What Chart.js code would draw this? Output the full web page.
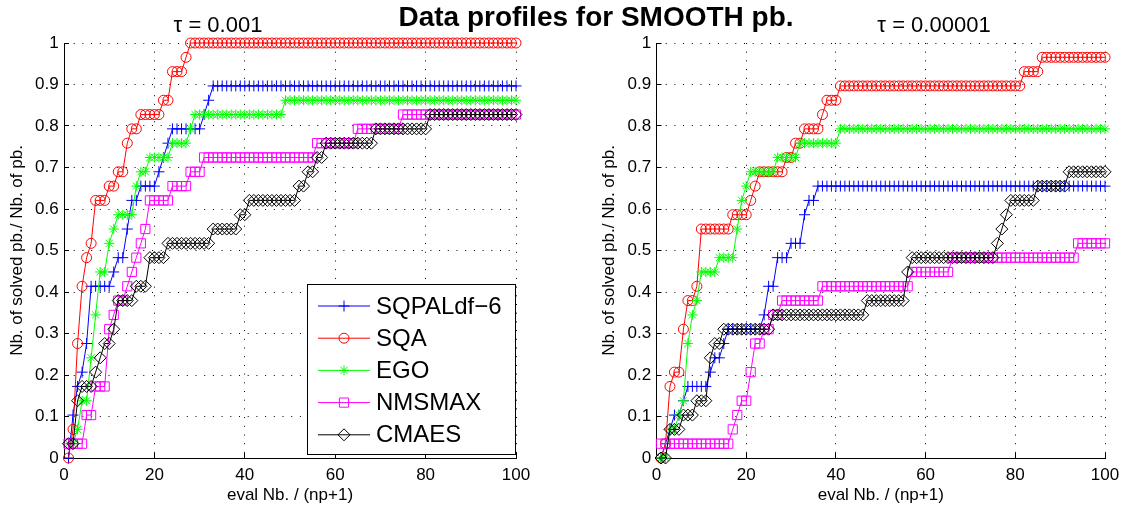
<!DOCTYPE html>
<html>
<head>
<meta charset="utf-8">
<title>Data profiles for SMOOTH pb.</title>
<script src="https://cdn.jsdelivr.net/npm/chart.js@4.4.1/dist/chart.umd.min.js"></script>
<style>
  html, body { margin: 0; padding: 0; background: #fff; }
  body { position: relative; width: 1126px; height: 508px; overflow: hidden;
         font-family: 'Liberation Sans', Arial, Helvetica, sans-serif; color: #000; }
  canvas { position: absolute; top: 0; }
  #left { left: 0; }
  #right { left: 592px; }
  .txt { position: absolute; white-space: nowrap; transform: translateX(-50%); z-index: 2; }
  #main-title { left: 596px; top: 2px; font-size: 28px; line-height: 30px; font-weight: bold; }
  .sub-title { top: 13px; font-size: 22px; line-height: 24px; }
</style>
</head>
<body>
<div id="main-title" class="txt">Data profiles for SMOOTH pb.</div>
<div class="txt sub-title" style="left:218px">τ = 0.001</div>
<div class="txt sub-title" style="left:934px">τ = 0.00001</div>
<canvas id="left" width="560" height="508"></canvas>
<canvas id="right" width="534" height="508"></canvas>
<script>
Chart.defaults.font.family = "'Liberation Sans', Arial, Helvetica, sans-serif";
Chart.defaults.color = '#000';

// 29 problems in the SMOOTH set, budgets 1..100 (in units of np+1)
const NB_PB = 29;
const X_EVALS = Array.from({ length: 100 }, (_, i) => i + 1);

const SERIES_NAMES = ['SQPALdf\u22126', 'SQA', 'EGO', 'NMSMAX', 'CMAES'];
const SERIES_COLORS = ['#0000ff', '#ff0000', '#00ff00', '#ff00ff', '#000000'];
const SERIES_MARKERS = ['cross', 'circle', 'star', 'rect', 'rectRot'];
const MARKER_SIZES = [5.5, 5, 5, 6.5, 6];

const X_TICK_LABELS = ['0', '20', '40', '60', '80', '100'];
const Y_TICK_LABELS = ['0', '0.1', '0.2', '0.3', '0.4', '0.5', '0.6', '0.7', '0.8', '0.9', '1'];
const X_TITLE = 'eval Nb. / (np+1)';
const Y_TITLE = 'Nb. of solved pb./ Nb. of pb.';

// number of solved problems, tau = 0.001
const SQPAL_T3 = [
  0, 3, 5, 6, 8, 12, 12, 12, 12, 12,
  13, 14, 14, 16, 18, 18, 19, 19, 19, 19,
  20, 21, 22, 23, 23, 23, 23, 23, 23, 23,
  24, 25, 26, 26, 26, 26, 26, 26, 26, 26,
  26, 26, 26, 26, 26, 26, 26, 26, 26, 26,
  26, 26, 26, 26, 26, 26, 26, 26, 26, 26,
  26, 26, 26, 26, 26, 26, 26, 26, 26, 26,
  26, 26, 26, 26, 26, 26, 26, 26, 26, 26,
  26, 26, 26, 26, 26, 26, 26, 26, 26, 26,
  26, 26, 26, 26, 26, 26, 26, 26, 26, 26,
];
const SQA_T3 = [
  0, 2, 8, 12, 14, 15, 18, 18, 18, 19,
  19, 20, 20, 22, 23, 23, 24, 24, 24, 24,
  24, 25, 25, 27, 27, 27, 28, 29, 29, 29,
  29, 29, 29, 29, 29, 29, 29, 29, 29, 29,
  29, 29, 29, 29, 29, 29, 29, 29, 29, 29,
  29, 29, 29, 29, 29, 29, 29, 29, 29, 29,
  29, 29, 29, 29, 29, 29, 29, 29, 29, 29,
  29, 29, 29, 29, 29, 29, 29, 29, 29, 29,
  29, 29, 29, 29, 29, 29, 29, 29, 29, 29,
  29, 29, 29, 29, 29, 29, 29, 29, 29, 29,
];
const EGO_T3 = [
  1, 1, 2, 4, 4, 7, 10, 13, 13, 15,
  16, 17, 17, 17, 17, 19, 20, 20, 21, 21,
  21, 21, 21, 22, 22, 22, 22, 23, 24, 24,
  24, 24, 24, 24, 24, 24, 24, 24, 24, 24,
  24, 24, 24, 24, 24, 24, 24, 24, 25, 25,
  25, 25, 25, 25, 25, 25, 25, 25, 25, 25,
  25, 25, 25, 25, 25, 25, 25, 25, 25, 25,
  25, 25, 25, 25, 25, 25, 25, 25, 25, 25,
  25, 25, 25, 25, 25, 25, 25, 25, 25, 25,
  25, 25, 25, 25, 25, 25, 25, 25, 25, 25,
];
const NMS_T3 = [
  1, 1, 1, 1, 3, 3, 5, 5, 5, 9,
  10, 11, 11, 12, 13, 14, 15, 16, 18, 18,
  18, 18, 18, 19, 19, 19, 19, 20, 20, 20,
  21, 21, 21, 21, 21, 21, 21, 21, 21, 21,
  21, 21, 21, 21, 21, 21, 21, 21, 21, 21,
  21, 21, 21, 21, 21, 22, 22, 22, 22, 22,
  22, 22, 22, 22, 23, 23, 23, 23, 23, 23,
  23, 23, 23, 23, 24, 24, 24, 24, 24, 24,
  24, 24, 24, 24, 24, 24, 24, 24, 24, 24,
  24, 24, 24, 24, 24, 24, 24, 24, 24, 24,
];
const CMA_T3 = [
  1, 1, 4, 5, 5, 5, 6, 7, 8, 8,
  9, 11, 11, 11, 11, 12, 12, 12, 14, 14,
  14, 14, 15, 15, 15, 15, 15, 15, 15, 15,
  15, 15, 16, 16, 16, 16, 16, 16, 17, 17,
  18, 18, 18, 18, 18, 18, 18, 18, 18, 18,
  18, 19, 19, 20, 20, 21, 21, 22, 22, 22,
  22, 22, 22, 22, 22, 22, 22, 22, 23, 23,
  23, 23, 23, 23, 23, 23, 23, 23, 23, 23,
  24, 24, 24, 24, 24, 24, 24, 24, 24, 24,
  24, 24, 24, 24, 24, 24, 24, 24, 24, 24,
];

// number of solved problems, tau = 0.00001
const SQPAL_T5 = [
  0, 1, 2, 3, 3, 4, 5, 5, 5, 5,
  5, 6, 7, 7, 8, 9, 9, 9, 9, 9,
  9, 9, 9, 10, 12, 12, 14, 14, 14, 15,
  15, 15, 17, 18, 18, 19, 19, 19, 19, 19,
  19, 19, 19, 19, 19, 19, 19, 19, 19, 19,
  19, 19, 19, 19, 19, 19, 19, 19, 19, 19,
  19, 19, 19, 19, 19, 19, 19, 19, 19, 19,
  19, 19, 19, 19, 19, 19, 19, 19, 19, 19,
  19, 19, 19, 19, 19, 19, 19, 19, 19, 19,
  19, 19, 19, 19, 19, 19, 19, 19, 19, 19,
];
const SQA_T5 = [
  0, 1, 5, 6, 6, 9, 11, 11, 12, 16,
  16, 16, 16, 16, 16, 16, 17, 17, 17, 17,
  18, 19, 20, 20, 20, 20, 20, 20, 21, 21,
  22, 22, 23, 23, 23, 23, 24, 25, 25, 25,
  26, 26, 26, 26, 26, 26, 26, 26, 26, 26,
  26, 26, 26, 26, 26, 26, 26, 26, 26, 26,
  26, 26, 26, 26, 26, 26, 26, 26, 26, 26,
  26, 26, 26, 26, 26, 26, 26, 26, 26, 26,
  26, 27, 27, 27, 27, 28, 28, 28, 28, 28,
  28, 28, 28, 28, 28, 28, 28, 28, 28, 28,
];
const EGO_T5 = [
  0, 0, 2, 2, 3, 4, 8, 10, 11, 13,
  13, 13, 13, 14, 14, 14, 14, 16, 18, 19,
  20, 20, 20, 20, 20, 20, 21, 21, 21, 21,
  21, 22, 22, 22, 22, 22, 22, 22, 22, 22,
  23, 23, 23, 23, 23, 23, 23, 23, 23, 23,
  23, 23, 23, 23, 23, 23, 23, 23, 23, 23,
  23, 23, 23, 23, 23, 23, 23, 23, 23, 23,
  23, 23, 23, 23, 23, 23, 23, 23, 23, 23,
  23, 23, 23, 23, 23, 23, 23, 23, 23, 23,
  23, 23, 23, 23, 23, 23, 23, 23, 23, 23,
];
const NMS_T5 = [
  1, 1, 1, 1, 1, 1, 1, 1, 1, 1,
  1, 1, 1, 1, 1, 1, 2, 3, 4, 4,
  6, 8, 8, 9, 9, 10, 10, 11, 11, 11,
  11, 11, 11, 11, 11, 11, 12, 12, 12, 12,
  12, 12, 12, 12, 12, 12, 12, 12, 12, 12,
  12, 12, 12, 12, 12, 12, 13, 13, 13, 13,
  13, 13, 13, 13, 13, 14, 14, 14, 14, 14,
  14, 14, 14, 14, 14, 14, 14, 14, 14, 14,
  14, 14, 14, 14, 14, 14, 14, 14, 14, 14,
  14, 14, 14, 15, 15, 15, 15, 15, 15, 15,
];
const CMA_T5 = [
  0, 0, 2, 2, 2, 3, 3, 3, 4, 4,
  4, 7, 8, 8, 9, 9, 9, 9, 9, 9,
  9, 9, 9, 9, 9, 10, 10, 10, 10, 10,
  10, 10, 10, 10, 10, 10, 10, 10, 10, 10,
  10, 10, 10, 10, 10, 10, 11, 11, 11, 11,
  11, 11, 11, 11, 11, 13, 14, 14, 14, 14,
  14, 14, 14, 14, 14, 14, 14, 14, 14, 14,
  14, 14, 14, 14, 14, 15, 16, 17, 18, 18,
  18, 18, 18, 18, 19, 19, 19, 19, 19, 19,
  19, 20, 20, 20, 20, 20, 20, 20, 20, 20,
];

function buildDatasets(countsList) {
  return countsList.map((counts, i) => ({
    label: SERIES_NAMES[i],
    data: counts.map((c, j) => ({ x: X_EVALS[j], y: c / NB_PB })),
    borderColor: SERIES_COLORS[i],
    backgroundColor: 'rgba(0,0,0,0)',
    borderWidth: 1,
    pointStyle: SERIES_MARKERS[i],
    pointRadius: MARKER_SIZES[i],
    pointHoverRadius: MARKER_SIZES[i],
    pointBorderColor: SERIES_COLORS[i],
    pointBackgroundColor: 'rgba(0,0,0,0)',
    pointBorderWidth: 1,
    tension: 0,
    fill: false,
    clip: false,
    // later series are drawn on top, like the original plot order
    order: SERIES_NAMES.length - i,
  }));
}

function scalesFor(yAxisWidth) {
  const gridOpts = { color: '#000', lineWidth: 1, drawTicks: false, tickLength: 0 };
  const borderOpts = { display: true, color: '#000', width: 1, dash: [1, 7.7] };
  return {
    x: {
      type: 'linear',
      min: 0,
      max: 100,
      afterFit: s => { s.height = 50; },
      ticks: {
        stepSize: 20, padding: 6.8, maxRotation: 0, autoSkip: false,
        font: { size: 17 }, color: '#000',
        callback: (v, i) => X_TICK_LABELS[i],
      },
      grid: gridOpts,
      border: borderOpts,
      title: { display: true, text: X_TITLE, font: { size: 17 }, color: '#000', padding: { top: 0, bottom: 2.8 } },
    },
    y: {
      type: 'linear',
      min: 0,
      max: 1,
      afterFit: s => { s.width = yAxisWidth; },
      ticks: {
        stepSize: 0.1, padding: 5.4, autoSkip: false,
        font: { size: 17 }, color: '#000',
        callback: (v, i) => Y_TICK_LABELS[i],
      },
      grid: gridOpts,
      border: borderOpts,
      title: { display: true, text: Y_TITLE, font: { size: 17 }, color: '#000', padding: { top: 6.8, bottom: 0 } },
    },
  };
}

// small inward tick marks on the left and bottom axes
const inwardTicks = {
  id: 'inwardTicks',
  beforeDatasetsDraw(chart) {
    const { ctx, chartArea: a, scales: { x, y } } = chart;
    ctx.save();
    ctx.strokeStyle = '#000';
    ctx.lineWidth = 1;
    ctx.beginPath();
    x.ticks.forEach(t => {
      const px = Math.round(x.getPixelForValue(t.value) - 0.5) + 0.5;
      ctx.moveTo(px, a.bottom);
      ctx.lineTo(px, a.bottom - 5);
    });
    y.ticks.forEach(t => {
      const py = Math.round(y.getPixelForValue(t.value) - 0.5) + 0.5;
      ctx.moveTo(a.left, py);
      ctx.lineTo(a.left + 5, py);
    });
    ctx.stroke();
    ctx.restore();
  },
};

// boxed legend with line + marker samples
const boxLegend = {
  id: 'boxLegend',
  afterDatasetsDraw(chart) {
    const { ctx } = chart;
    const box = { x: 307, y: 284, w: 208, h: 170 };
    ctx.save();
    ctx.fillStyle = '#fff';
    ctx.fillRect(box.x, box.y, box.w, box.h);
    ctx.strokeStyle = '#000';
    ctx.lineWidth = 1;
    ctx.strokeRect(box.x + 0.5, box.y + 0.5, box.w, box.h);
    ctx.font = "24px 'Liberation Sans', Arial, sans-serif";
    ctx.textBaseline = 'middle';
    ctx.textAlign = 'left';
    chart.data.datasets.forEach((ds, i) => {
      const yRow = 306 + i * 32.2;
      ctx.strokeStyle = ds.borderColor;
      ctx.lineWidth = 1;
      ctx.beginPath();
      ctx.moveTo(318, yRow);
      ctx.lineTo(370, yRow);
      ctx.stroke();
      ctx.fillStyle = 'rgba(0,0,0,0)';
      Chart.helpers.drawPoint(ctx, {
        pointStyle: ds.pointStyle, radius: ds.pointRadius, borderWidth: 1, rotation: 0,
      }, 344, yRow);
      ctx.fillStyle = '#000';
      ctx.fillText(ds.label, 376, yRow + 1);
    });
    ctx.restore();
  },
};

function makeChart(canvasId, countsList, yAxisWidth, rightPad, withLegend) {
  const plugins = [inwardTicks];
  if (withLegend) plugins.push(boxLegend);
  return new Chart(document.getElementById(canvasId), {
    type: 'line',
    data: { datasets: buildDatasets(countsList) },
    options: {
      responsive: false,
      animation: false,
      devicePixelRatio: 1,
      layout: { padding: { left: 0, right: rightPad, top: 43, bottom: 0 } },
      scales: scalesFor(yAxisWidth),
      plugins: {
        legend: { display: false },
        tooltip: { enabled: false },
        title: { display: false },
      },
    },
    plugins,
  });
}

makeChart('left', [SQPAL_T3, SQA_T3, EGO_T3, NMS_T3, CMA_T3], 64, 44, true);
makeChart('right', [SQPAL_T5, SQA_T5, EGO_T5, NMS_T5, CMA_T5], 64.5, 17.7, false);
</script>
</body>
</html>
